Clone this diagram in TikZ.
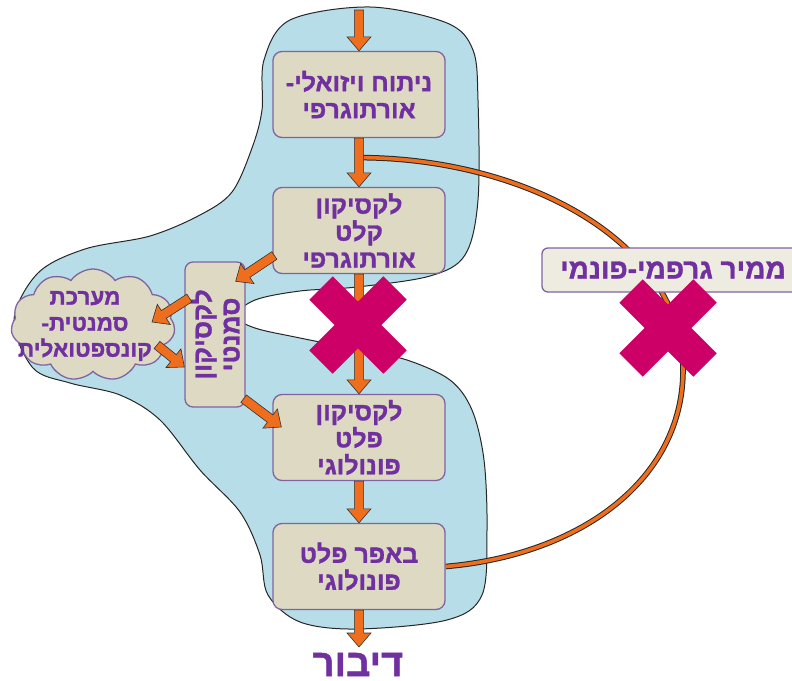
\documentclass[tikz,border=0pt]{standalone}
\usepackage{fontspec}
\usetikzlibrary{calc,shapes.symbols}
\TeXXeTstate=1
\newfontfamily\hebfont[Script=Hebrew, BoldFeatures={FakeBold=1.3}]{Liberation Sans}

\definecolor{blobblue}{RGB}{183,221,232}
\definecolor{boxbeige}{RGB}{221,217,195}
\definecolor{boxedge}{RGB}{128,100,162}
\definecolor{txtpurple}{RGB}{112,48,160}
\definecolor{flowor}{RGB}{238,110,30}
\definecolor{crossmag}{RGB}{204,0,102}
\definecolor{labelfill}{RGB}{238,236,225}

\pgfdeclarelayer{back}
\pgfdeclarelayer{mid}
\pgfsetlayers{back,mid,main}

\tikzset{
  stage/.style={draw=boxedge, line width=1.3pt, fill=boxbeige, rounded corners=9pt,
    minimum width=172pt, minimum height=86pt, inner sep=0pt, align=center,
    text=txtpurple, font=\hebfont\bfseries\fontsize{25}{27}\selectfont},
  flow/.style={fill=flowor, draw=black!80, line width=0.6pt, line join=miter},
  route/.style={draw=flowor, line width=3.6pt, preaction={draw=black!85, line width=5.6pt}},
  crossbar/.style={draw=crossmag, line width=33pt},
  region/.style={fill=blobblue, draw=black!85, line width=1pt},
}

% thick block arrow with outlined head, from #1 to #2
\newcommand\flowarrow[2]{%
  \path[flow] let \p1=($(#2)-(#1)$), \n1={atan2(\y1,\x1)}, \n2={veclen(\x1,\y1)-14pt} in
    ($(#1)+({\n1+90}:4.6pt)$) -- ($(#1)+(\n1:\n2)+({\n1+90}:4.6pt)$)
    -- ($(#1)+(\n1:\n2)+({\n1+90}:12pt)$) -- (#2)
    -- ($(#1)+(\n1:\n2)+({\n1-90}:12pt)$) -- ($(#1)+(\n1:\n2)+({\n1-90}:4.6pt)$)
    -- ($(#1)+({\n1-90}:4.6pt)$) -- cycle;}

\begin{document}
\begin{tikzpicture}[x=1pt,y=-1pt]
\useasboundingbox (0,0) rectangle (792,680);
\clip (0,0) rectangle (792,680);

% shaded processing region
\begin{pgfonlayer}{back}
\path[region] plot[smooth cycle, tension=0.55] coordinates {
  (264,60) (290,20) (370,7) (447,23) (473,50) (478,100) (478,200) (465,255)
  (430,276) (357,287) (300,291) (255,300) (236,316) (255,328) (300,338)
  (360,350) (407,360) (450,380) (472,410) (484,460) (487,530) (482,595)
  (447,620) (357,629) (300,622) (268,595) (260,555) (240,512) (200,470)
  (160,420) (120,395) (70,383) (33,368) (14,320) (38,273) (85,249)
  (150,236) (200,215) (232,192) (252,148) (262,110)};
\end{pgfonlayer}

% stages
\node[stage] (b1) at (359,94.5) {\beginR ניתוח ויזואלי-\endR\\\beginR אורתוגרפי\endR};
\node[stage] (b2) at (359,230.5) {\beginR לקסיקון\endR\\\beginR קלט\endR\\\beginR אורתוגרפי\endR};
\node[stage] (b4) at (359,437.5) {\beginR לקסיקון\endR\\\beginR פלט\endR\\\beginR פונולוגי\endR};
\node[stage] (b5) at (359,566.5) {\beginR באפר פלט\endR\\\beginR פונולוגי\endR};

% sublexical route, behind the stages
\coordinate (split) at ($(b1.south)!0.4!(b2.north)$);
\coordinate (far) at (683,370);
\begin{pgfonlayer}{mid}
\draw[route] (split) .. controls +(163,0) and (683,240) .. (far)
  .. controls (683,480) and (580,555) .. (b5.east);
\end{pgfonlayer}

% semantic lexicon and conceptual system
\node[stage, minimum width=60pt, minimum height=145pt, rounded corners=8pt] (sem) at (215,334.5) {};
\node[rotate=90, align=center, text=txtpurple, inner sep=0pt,
  font=\hebfont\bfseries\fontsize{26}{28}\selectfont] (semtext) at (sem.center)
  {\beginR לקסיקון\endR\\\beginR סמנטי\endR};
\node[cloud, cloud puffs=11, cloud puff arc=110, aspect=1.5, draw=boxedge, line width=1.3pt,
  fill=boxbeige, minimum width=164pt, minimum height=112pt] (cloud) at (93,325) {};
\node[align=center, text=txtpurple, inner sep=0pt,
  font=\hebfont\bfseries\fontsize{22.5}{26}\selectfont] (cloudtext) at (85,326)
  {\beginR מערכת\endR\\\beginR סמנטית-\endR\\\beginR קונספטואלית\endR};

% arrows
\coordinate (entry) at (359,10);
\flowarrow{entry}{b1.north}
\flowarrow{b1.south}{b2.north}
\flowarrow{b2.south}{b4.north}
\flowarrow{b4.south}{b5.north}
\node[anchor=base, text=txtpurple, inner sep=0pt, font=\hebfont\bfseries\fontsize{38}{38}\selectfont]
  (speech) at (358,676) {\beginR דיבור\endR};
\coordinate (out) at (359,647);
\flowarrow{b5.south}{out}
\flowarrow{$(b2.west)+(2,25)$}{$(sem.north east)+(-10,20)$}
\flowarrow{$(sem.west)+(5,-36.5)$}{$(cloud.center)+(59,-3)$}
\flowarrow{$(cloud.center)+(64,20)$}{$(sem.west)+(0,32.5)$}
\flowarrow{$(sem.south east)+(-2,-9)$}{$(b4.west)+(9,-10.5)$}

% grapheme-phoneme converter label
\node[draw=boxedge, line width=1.3pt, fill=labelfill, rounded corners=6pt,
  minimum width=262pt, minimum height=44pt, inner sep=0pt, text=txtpurple,
  font=\hebfont\bfseries\fontsize{28}{30}\selectfont] (conv) at (673,270)
  {\beginR ממיר גרפמי-פונמי\endR};

% blocked routes
\coordinate (midx) at (358,325);
\coordinate (rightx) at (668,328);
\draw[crossbar] ($(midx)+(-37,-37)$) -- ($(midx)+(37,37)$);
\draw[crossbar] ($(midx)+(-37,37)$) -- ($(midx)+(37,-37)$);
\draw[crossbar] ($(rightx)+(-37,-37)$) -- ($(rightx)+(37,37)$);
\draw[crossbar] ($(rightx)+(-37,37)$) -- ($(rightx)+(37,-37)$);
\end{tikzpicture}
\end{document}
